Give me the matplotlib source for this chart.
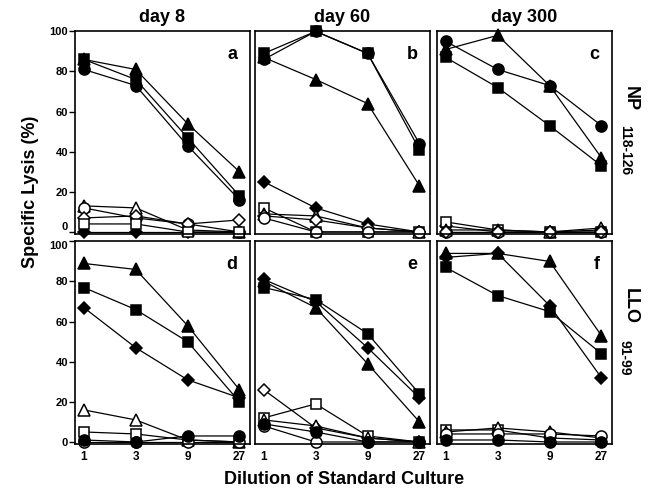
import matplotlib
matplotlib.use("Agg")
import matplotlib.pyplot as plt

plt.rcParams['font.family'] = ['Liberation Sans', 'DejaVu Sans']
plt.rcParams['font.weight'] = 'bold'

# dilution of standard culture
DILUTION = [1, 3, 9, 27]
DAYS = ['day 8', 'day 60', 'day 300']
LETTERS = ['a', 'b', 'c', 'd', 'e', 'f']
YTICKS = [0, 20, 40, 60, 80, 100]

# specific lysis (%) per panel, one list per symbol
# _f = filled symbol, _o = open symbol
PANEL_A = {
    'tri_f': [86, 81, 54, 30],
    'sq_f': [86, 76, 47, 18],
    'circ_f': [81, 73, 43, 16],
    'dia_f': [0, 0, 0, 0],
    'tri_o': [13, 12, 1, 0],
    'circ_o': [12, 7, 4, 0],
    'dia_o': [7, 8, 4, 6],
    'sq_o': [4, 4, 0, 0],
}
PANEL_B = {
    'tri_f': [87, 76, 64, 23],
    'circ_f': [86, 100, 89, 44],
    'sq_f': [89, 100, 89, 41],
    'dia_f': [25, 12, 4, 0],
    'sq_o': [12, 0, 0, 0],
    'tri_o': [9, 8, 2, 0],
    'dia_o': [8, 6, 2, 0],
    'circ_o': [7, 0, 0, 0],
}
PANEL_C = {
    'circ_f': [95, 81, 73, 53],
    'tri_f': [91, 98, 73, 37],
    'sq_f': [87, 72, 53, 33],
    'dia_f': [3, 0, 0, 1],
    'sq_o': [5, 1, 0, 0],
    'tri_o': [1, 1, 0, 2],
    'circ_o': [0, 0, 0, 0],
    'dia_o': [0, 0, 0, 0],
}
PANEL_D = {
    'tri_f': [89, 86, 58, 26],
    'sq_f': [77, 66, 50, 20],
    'dia_f': [67, 47, 31, 22],
    'tri_o': [16, 11, 1, 0],
    'sq_o': [5, 4, 1, 0],
    'circ_o': [0, 0, 0, 0],
    'circ_f': [1, 0, 3, 3],
}
PANEL_E = {
    'sq_f': [77, 71, 54, 24],
    'dia_f': [81, 70, 47, 22],
    'tri_f': [80, 67, 39, 10],
    'dia_o': [26, 7, 2, 0],
    'sq_o': [12, 19, 3, 0],
    'tri_o': [11, 8, 2, 0],
    'circ_o': [8, 0, 0, 0],
    'circ_f': [9, 5, 0, 0],
}
PANEL_F = {
    'tri_f': [94, 94, 90, 53],
    'dia_f': [92, 94, 68, 32],
    'sq_f': [87, 73, 65, 44],
    'sq_o': [6, 6, 2, 1],
    'tri_o': [5, 7, 5, 2],
    'circ_o': [4, 4, 4, 3],
    'circ_f': [1, 1, 0, 0],
}
PANELS = [PANEL_A, PANEL_B, PANEL_C, PANEL_D, PANEL_E, PANEL_F]

MARKERS = {'tri': ('^', 8.5), 'sq': ('s', 7.5), 'circ': ('o', 8), 'dia': ('D', 6)}

fig = plt.figure(figsize=(6.5, 4.93), dpi=100)
lefts = [0.1154, 0.3923, 0.6723]
bottoms = [0.5254, 0.0994]
w, h = 0.269, 0.411

for i, data in enumerate(PANELS):
    row, col = divmod(i, 3)
    ax = fig.add_axes([lefts[col], bottoms[row], w, h])
    ax.set_xscale('log', base=3)
    for key, vals in data.items():
        shape, fill = key.split('_')
        m, ms = MARKERS[shape]
        ax.plot(DILUTION, vals, color='black', lw=0.9, marker=m, ms=ms,
                mfc='black' if fill == 'f' else 'white', mec='black', mew=1.1,
                clip_on=False)
    ax.set_xlim(3 ** -0.17, 3 ** 3.2)
    ax.set_ylim(-1, 100)
    for s in ax.spines.values():
        s.set_linewidth(1.2)
    ax.minorticks_off()
    ax.set_xticks(DILUTION)
    ax.set_yticks(YTICKS)
    if row == 1:
        ax.set_xticklabels([str(d) for d in DILUTION], fontsize=8.5, fontweight='bold')
        ax.tick_params(axis='x', length=0, pad=5)
    else:
        ax.tick_params(axis='x', length=0, labelbottom=False)
    if col == 0:
        ax.set_yticklabels([str(v) for v in YTICKS], fontsize=8, fontweight='bold')
        ax.tick_params(axis='y', length=4, width=1, pad=1)
        # keep the shared 0 / 100 labels between rows apart
        labels = ax.get_yticklabels()
        if row == 0:
            labels[0].set_verticalalignment('bottom')
        else:
            labels[-1].set_verticalalignment('top')
    else:
        ax.tick_params(axis='y', left=False, labelleft=False)
    if row == 0:
        ax.set_title(DAYS[col], fontsize=13, fontweight='bold', pad=7)
    ax.text(0.93, 0.93, LETTERS[i], transform=ax.transAxes, ha='right', va='top',
            fontsize=13, fontweight='bold')

fig.text(0.047, 0.61, 'Specific Lysis (%)', rotation=90, ha='center', va='center',
         fontsize=13, fontweight='bold')
fig.text(0.53, 0.027, 'Dilution of Standard Culture', ha='center', va='center',
         fontsize=13, fontweight='bold')

fig.text(0.969, 0.80, 'NP', rotation=270, ha='center', va='center', fontsize=13,
         fontweight='bold')
fig.text(0.961, 0.695, '118-126', rotation=270, ha='center', va='center', fontsize=10,
         fontweight='bold')
fig.text(0.969, 0.38, 'LLO', rotation=270, ha='center', va='center', fontsize=13,
         fontweight='bold')
fig.text(0.961, 0.275, '91-99', rotation=270, ha='center', va='center', fontsize=10,
         fontweight='bold')

fig.savefig('out.png', dpi=100)
